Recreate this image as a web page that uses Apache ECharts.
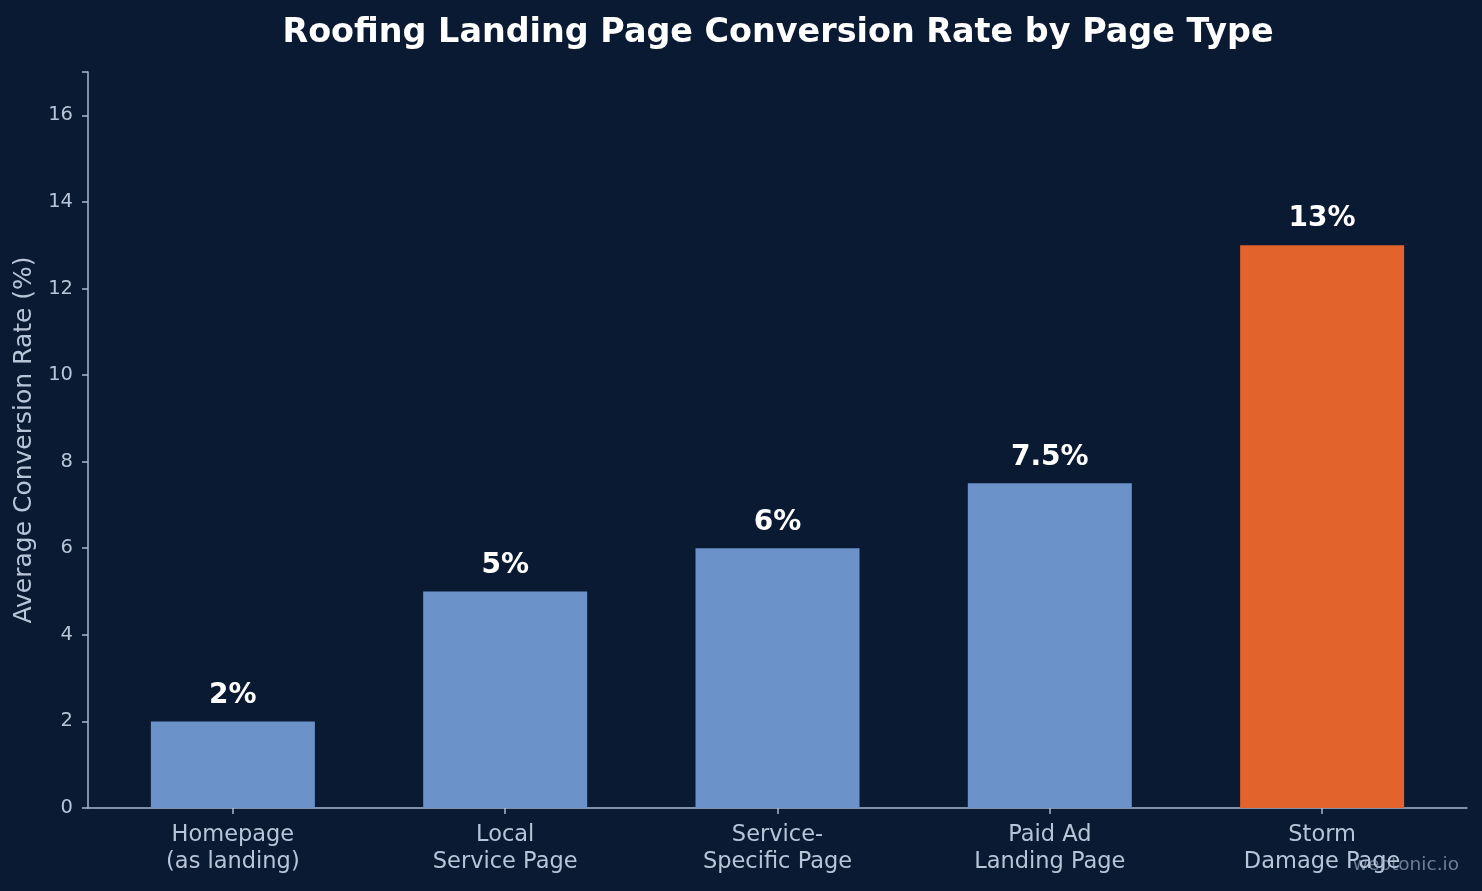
<!DOCTYPE html>
<html><head><meta charset="utf-8">
<script src="https://cdn.jsdelivr.net/npm/echarts@6/dist/echarts.min.js"></script>
<style>html,body{margin:0;padding:0;background:#0B1A33;}#c{width:1482px;height:891px;}</style>
</head><body><div id="c"></div>
<script>
const categories = ['Homepage\n(as landing)', 'Local\nService Page', 'Service-\nSpecific Page', 'Paid Ad\nLanding Page', 'Storm\nDamage Page'];
const values = [2, 5, 6, 7.5, 13];
const valueLabels = ['2%', '5%', '6%', '7.5%', '13%'];
const barColors = ['#6B93C9', '#6B93C9', '#6B93C9', '#6B93C9', '#E3632D'];
const yTicks = [0, 2, 4, 6, 8, 10, 12, 14, 16];

const font = 'DejaVu Sans';
const axisCol = '#A9B8CF';
const textCol = '#B8C5D8';
const chart = echarts.init(document.getElementById('c'));
chart.setOption({
  backgroundColor: '#0B1A33',
  animation: false,
  title: {
    text: 'Roofing Landing Page Conversion Rate by Page Type',
    left: 773, top: 12, textAlign: 'center',
    textStyle: {color: '#FFFFFF', fontFamily: font, fontWeight: 'bold', fontSize: 33.4}
  },
  graphic: [{
    type: 'text', right: 23, top: 856,
    style: {text: 'webtonic.io', fill: '#6E7C95', font: '18.5px "DejaVu Sans"'}
  }],
  grid: {left: 88, right: 15, top: 72, bottom: 83},
  xAxis: {
    type: 'value', min: -0.532, max: 4.532,
    splitLine: {show: false},
    axisLine: {lineStyle: {color: axisCol, width: 1.5}},
    axisTick: {show: true, length: 6, customValues: [0,1,2,3,4], lineStyle: {color: axisCol, width: 1.5}},
    axisLabel: {
      customValues: [0,1,2,3,4],
      formatter: v => categories[Math.round(v)],
      color: textCol, fontFamily: font, fontSize: 22.5, lineHeight: 27, margin: 14
    }
  },
  yAxis: {
    type: 'value', min: 0, max: 17, interval: 2,
    name: 'Average Conversion Rate (%)', nameLocation: 'middle', nameGap: 48,
    nameTextStyle: {color: textCol, fontFamily: font, fontSize: 25},
    splitLine: {show: false},
    axisLine: {show: true, onZero: false, lineStyle: {color: axisCol, width: 1.5}},
    axisTick: {show: true, length: 6, lineStyle: {color: axisCol, width: 1.5}},
    axisLabel: {
      color: textCol, fontFamily: font, fontSize: 19.5, margin: 15,
      formatter: v => (yTicks.includes(v) ? String(v) : '')
    }
  },
  series: [{
    type: 'bar',
    barWidth: 164,
    data: values.map((v, i) => ({value: [i, v], itemStyle: {color: barColors[i]}})),
    label: {
      show: true, position: 'top', distance: 12,
      formatter: p => valueLabels[p.dataIndex],
      color: '#FFFFFF', fontFamily: font, fontWeight: 'bold', fontSize: 28
    }
  }]
});
</script>
</body></html>
